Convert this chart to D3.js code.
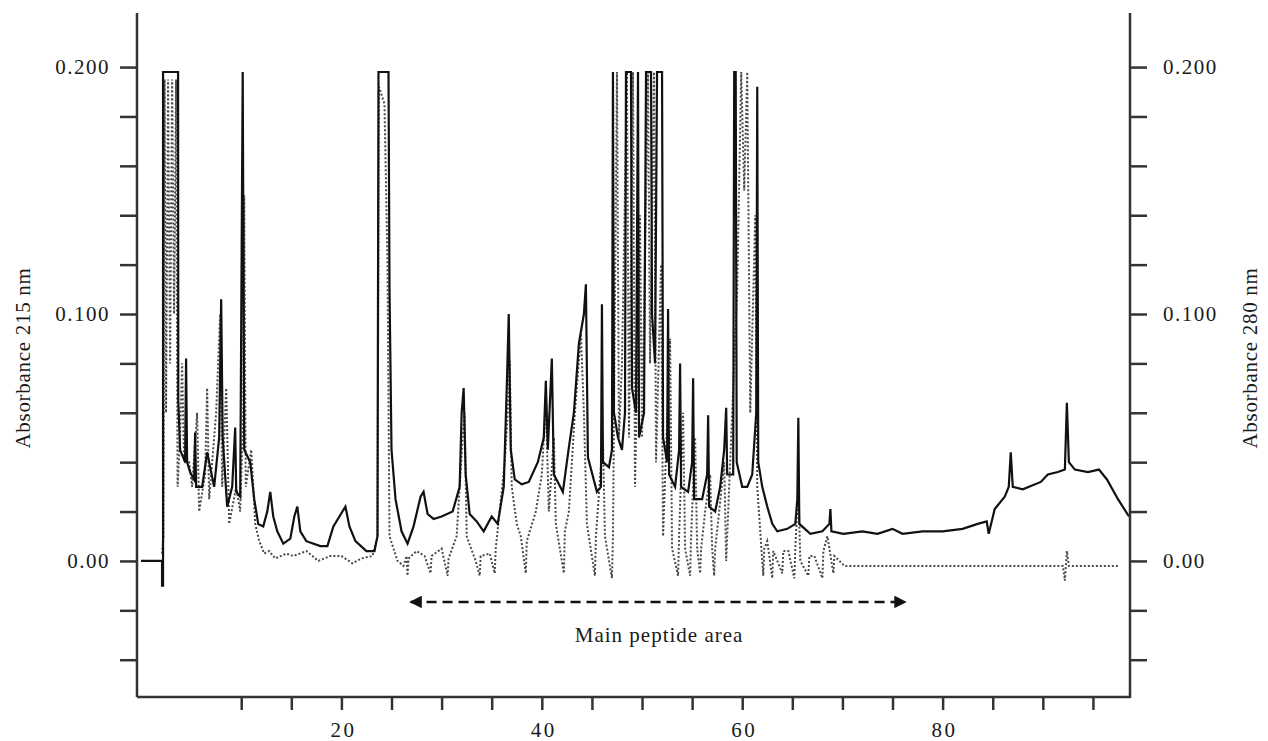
<!DOCTYPE html>
<html>
<head>
<meta charset="utf-8">
<script src="https://cdn.jsdelivr.net/npm/d3@7/dist/d3.min.js"></script>
<style>
  body { margin: 0; background: #fff; }
  svg text { font-family: "Liberation Serif", "Times New Roman", serif; fill: #1a1a1a; }
</style>
</head>
<body>
<svg id="chart"></svg>
<script>
var width = 1268,
  height = 741;

// retention time (min) / absorbance, 215 nm trace (solid)
var t215 = [0, 2.1, 2.1, 2.2, 2.2, 3.7, 3.72, 3.9, 4.4, 4.5, 4.6, 4.9, 5.3, 5.4, 5.5, 6.1, 6.6, 6.9,
  7.3, 7.8, 8.0, 8.15, 8.6, 9.1, 9.4, 9.5, 9.9, 10.15, 10.3, 10.9, 11.3, 11.7, 12.2, 12.6, 12.9, 13.2,
  13.6, 14.2, 14.9, 15.3, 15.6, 15.9, 16.5, 17.9, 18.6, 19.2, 19.8, 20.4, 20.8, 21.4, 22.5, 23.3,
  23.6, 23.7, 24.7, 24.8, 25.0, 25.4, 26.0, 26.6, 27.2, 27.9, 28.2, 28.6, 29.2, 30.0, 31.1, 31.8,
  32.0, 32.2, 32.4, 32.8, 33.5, 34.2, 35.0, 35.6, 36.2, 36.5, 36.7, 36.9, 37.3, 38.0, 38.7, 39.6,
  40.2, 40.4, 40.6, 41.0, 41.2, 42.1, 42.7, 43.2, 43.7, 44.2, 44.4, 44.6, 45.5, 45.9, 46.0, 46.1,
  46.7, 47.0, 47.1, 47.2, 47.6, 48.0, 48.3, 48.4, 48.9, 49.0, 49.4, 49.6, 49.7, 50.2, 50.4, 50.9,
  51.0, 51.3, 51.5, 52.0, 52.1, 52.5, 52.6, 52.7, 53.3, 53.7, 53.8, 53.9, 54.6, 55.0, 55.1, 55.2,
  56.0, 56.5, 56.6, 56.7, 57.3, 57.8, 58.2, 58.4, 58.5, 59.1, 59.2, 59.35, 59.45, 60.0, 60.5, 61.0,
  61.4, 61.5, 61.6, 62.0, 62.5, 63.0, 63.5, 64.5, 65.3, 65.5, 65.6, 65.7, 66.8, 68.0, 68.7, 68.8,
  68.9, 70.1, 72.0, 73.5, 75.0, 76.0, 78.0, 80.0, 82.0, 83.5, 84.4, 84.6, 85.2, 86.2, 86.6, 86.8,
  87.0, 88.0, 89.8, 90.5, 91.5, 92.2, 92.4, 92.6, 93.2, 94.5, 95.6, 96.4, 97.5, 98.6];
var a215 = [0, 0, -0.010, -0.010, 0.198, 0.198, 0.065, 0.045, 0.040, 0.082, 0.040, 0.036, 0.033,
  0.052, 0.030, 0.030, 0.044, 0.038, 0.030, 0.050, 0.106, 0.050, 0.022, 0.030, 0.054, 0.028, 0.026,
  0.198, 0.045, 0.040, 0.025, 0.015, 0.014, 0.020, 0.028, 0.018, 0.012, 0.007, 0.009, 0.018, 0.022,
  0.012, 0.008, 0.006, 0.006, 0.014, 0.018, 0.022, 0.014, 0.008, 0.004, 0.004, 0.010, 0.198, 0.198,
  0.110, 0.045, 0.025, 0.012, 0.007, 0.014, 0.026, 0.028, 0.019, 0.017, 0.018, 0.020, 0.030, 0.060,
  0.070, 0.035, 0.019, 0.016, 0.012, 0.018, 0.015, 0.030, 0.070, 0.100, 0.045, 0.033, 0.031, 0.032,
  0.040, 0.050, 0.073, 0.045, 0.082, 0.035, 0.028, 0.046, 0.060, 0.088, 0.100, 0.112, 0.042, 0.028,
  0.030, 0.104, 0.040, 0.038, 0.045, 0.198, 0.060, 0.050, 0.045, 0.060, 0.198, 0.198, 0.070, 0.060,
  0.198, 0.050, 0.060, 0.198, 0.198, 0.100, 0.080, 0.198, 0.198, 0.050, 0.040, 0.102, 0.035, 0.030,
  0.045, 0.080, 0.030, 0.028, 0.040, 0.074, 0.025, 0.025, 0.035, 0.059, 0.022, 0.020, 0.030, 0.045,
  0.062, 0.035, 0.035, 0.198, 0.198, 0.040, 0.030, 0.030, 0.035, 0.060, 0.192, 0.040, 0.030, 0.022,
  0.015, 0.012, 0.013, 0.015, 0.025, 0.058, 0.015, 0.011, 0.012, 0.015, 0.021, 0.012, 0.011, 0.012,
  0.011, 0.013, 0.011, 0.012, 0.012, 0.013, 0.015, 0.016, 0.011, 0.021, 0.026, 0.030, 0.044, 0.030,
  0.029, 0.032, 0.035, 0.036, 0.037, 0.064, 0.040, 0.037, 0.036, 0.037, 0.033, 0.025, 0.018];

// 280 nm trace (dotted)
var t280 = [2.1, 2.25, 2.35, 2.5, 2.7, 2.9, 3.1, 3.3, 3.5, 3.65, 3.9, 4.1, 4.3, 4.8, 5.1, 5.6, 5.8,
  6.4, 6.6, 6.8, 7.5, 7.9, 8.1, 8.5, 8.8, 9.5, 9.9, 10.2, 10.3, 10.45, 11.0, 11.4, 11.8, 12.3, 12.8,
  13.4, 14.5, 15.2, 16.5, 17.7, 18.9, 20.0, 21.1, 22.0, 23.1, 23.6, 23.75, 24.3, 24.6, 24.8, 25.6,
  26.2, 26.5, 26.6, 26.7, 27.5, 28.3, 28.9, 29.0, 30.0, 30.6, 30.7, 31.5, 32.1, 32.3, 32.5, 33.4,
  33.8, 33.9, 34.8, 35.3, 35.4, 36.3, 36.6, 36.8, 37.0, 37.5, 37.9, 38.4, 38.5, 39.4, 40.0, 40.4,
  40.7, 41.2, 41.4, 42.2, 42.3, 42.7, 43.3, 43.9, 44.2, 44.5, 45.3, 45.4, 46.1, 46.3, 47.0, 47.1,
  47.5, 47.7, 48.0, 48.3, 48.5, 48.7, 49.1, 49.3, 49.8, 50.0, 50.6, 50.8, 51.2, 51.4, 51.9, 52.1,
  52.8, 53.0, 53.6, 53.7, 54.1, 54.3, 54.8, 54.9, 55.3, 55.5, 55.8, 55.9, 56.3, 56.8, 57.0, 57.2,
  57.3, 57.7, 58.2, 58.4, 59.0, 59.5, 59.9, 60.2, 60.5, 60.8, 61.3, 61.5, 62.1, 62.2, 62.5, 63.0,
  63.1, 64.0, 64.1, 64.6, 65.2, 65.3, 65.6, 65.8, 66.6, 66.7, 67.2, 68.0, 68.1, 68.5, 69.1, 69.2,
  70.2, 80.0, 92.0, 92.2, 92.4, 92.6, 97.5];
var a280 = [0.003, 0.010, 0.195, 0.060, 0.195, 0.080, 0.195, 0.100, 0.195, 0.030, 0.050, 0.080,
  0.040, 0.040, 0.030, 0.060, 0.020, 0.035, 0.070, 0.025, 0.060, 0.100, 0.030, 0.070, 0.015, 0.030,
  0.020, 0.060, 0.148, 0.030, 0.045, 0.015, 0.008, 0.003, 0.004, 0.001, 0.003, 0.002, 0.004, 0.000,
  0.002, 0.002, -0.001, 0.001, 0.002, 0.010, 0.192, 0.185, 0.120, 0.010, 0.000, -0.002, 0.002,
  -0.006, 0.001, 0.004, 0.002, -0.005, 0.002, 0.005, -0.006, 0.001, 0.010, 0.050, 0.060, 0.010,
  0.000, -0.006, 0.002, 0.003, -0.005, 0.005, 0.040, 0.060, 0.081, 0.030, 0.015, 0.010, -0.005,
  0.008, 0.020, 0.035, 0.065, 0.020, 0.050, 0.015, -0.005, 0.012, 0.020, 0.060, 0.092, 0.060, 0.015,
  -0.006, 0.010, 0.050, 0.010, -0.007, 0.010, 0.198, 0.050, 0.080, 0.150, 0.198, 0.050, 0.198, 0.030,
  0.140, 0.050, 0.198, 0.080, 0.198, 0.040, 0.120, 0.010, 0.090, 0.005, -0.006, 0.010, 0.060, 0.005,
  -0.006, 0.010, 0.050, 0.005, -0.005, 0.005, 0.020, 0.035, 0.005, -0.006, 0.005, 0.020, 0.040, 0.000,
  0.060, 0.110, 0.198, 0.150, 0.198, 0.060, 0.140, 0.030, -0.006, 0.005, 0.008, -0.007, 0.004,
  -0.005, 0.004, 0.004, -0.007, 0.005, 0.030, 0.000, -0.006, 0.002, 0.002, -0.007, 0.004, 0.010,
  -0.005, 0.002, -0.002, -0.002, -0.002, -0.008, 0.004, -0.002, -0.002];

var xTicks = d3.range(10, 100, 5);
var xLabels = [20, 40, 60, 80];
var yTicks = d3.range(-0.04, 0.201, 0.02);
var yLabels = [0, 0.1, 0.2];
var yLabelText = ['0.00', '0.100', '0.200'];

var svg = d3.select('#chart')
  .attr('width', width)
  .attr('height', height);

var x = d3.scaleLinear()
  .domain([-0.4, 98.7])
  .range([137, 1130]);

var y = d3.scaleLinear()
  .domain([-0.0551, 0.2219])
  .range([697, 13]);

var line = d3.line()
  .x(function(d) { return x(d[0]); })
  .y(function(d) { return y(d[1]); });

// 280 nm, dotted
svg.append('path')
  .datum(d3.zip(t280, a280))
  .attr('d', line)
  .attr('fill', 'none')
  .attr('stroke', '#4a4a4a')
  .attr('stroke-width', 2)
  .attr('stroke-dasharray', '2,2');

// 215 nm, solid
svg.append('path')
  .datum(d3.zip(t215, a215))
  .attr('d', line)
  .attr('fill', 'none')
  .attr('stroke', '#111')
  .attr('stroke-width', 2.2);

// axes
var axisColor = '#333';

var left = svg.append('g').attr('transform', 'translate(' + x.range()[0] + ',0)');
left.call(d3.axisLeft(y).tickValues(yTicks).tickSize(17).tickFormat(''));

var right = svg.append('g').attr('transform', 'translate(' + x.range()[1] + ',0)');
right.call(d3.axisRight(y).tickValues(yTicks).tickSize(17).tickFormat(''));

var bottom = svg.append('g').attr('transform', 'translate(0,' + y.range()[0] + ')');
bottom.call(d3.axisBottom(x).tickValues(xTicks).tickSize(13).tickFormat(''));

svg.selectAll('.domain').remove();
svg.selectAll('.tick line')
  .attr('stroke', axisColor)
  .attr('stroke-width', 2.5);

left.append('line').attr('x1', 0).attr('x2', 0).attr('y1', y.range()[1]).attr('y2', y.range()[0])
  .attr('stroke', axisColor).attr('stroke-width', 2.5);
right.append('line').attr('x1', 0).attr('x2', 0).attr('y1', y.range()[1]).attr('y2', y.range()[0] + 1)
  .attr('stroke', axisColor).attr('stroke-width', 2.5);
bottom.append('line').attr('x1', x.range()[0]).attr('x2', x.range()[1]).attr('y1', 0).attr('y2', 0)
  .attr('stroke', axisColor).attr('stroke-width', 2.5);

// tick labels
svg.selectAll('.ylab-left')
  .data(yLabels)
  .enter().append('text')
  .attr('class', 'ylab-left')
  .attr('x', 110)
  .attr('y', function(d) { return y(d) + 7; })
  .attr('text-anchor', 'end')
  .style('font-size', '21px')
  .style('letter-spacing', '1.5px')
  .text(function(d, i) { return yLabelText[i]; });

svg.selectAll('.ylab-right')
  .data(yLabels)
  .enter().append('text')
  .attr('class', 'ylab-right')
  .attr('x', 1163)
  .attr('y', function(d) { return y(d) + 7; })
  .attr('text-anchor', 'start')
  .style('font-size', '21px')
  .style('letter-spacing', '1.5px')
  .text(function(d, i) { return yLabelText[i]; });

svg.selectAll('.xlab')
  .data(xLabels)
  .enter().append('text')
  .attr('class', 'xlab')
  .attr('x', function(d) { return x(d) + 2; })
  .attr('y', 737)
  .attr('text-anchor', 'middle')
  .style('font-size', '21px')
  .style('letter-spacing', '2.5px')
  .text(function(d) { return d; });

// axis titles
svg.append('text')
  .attr('transform', 'translate(30,358) rotate(-90)')
  .attr('text-anchor', 'middle')
  .style('font-size', '21px')
  .style('letter-spacing', '0.7px')
  .text('Absorbance 215 nm');

svg.append('text')
  .attr('transform', 'translate(1257,358) rotate(-90)')
  .attr('text-anchor', 'middle')
  .style('font-size', '21px')
  .style('letter-spacing', '0.7px')
  .text('Absorbance 280 nm');

// main peptide area annotation
var areaFrom = 26.9,
  areaTo = 76.3,
  areaLevel = -0.0166;

svg.append('defs').append('marker')
  .attr('id', 'head')
  .attr('viewBox', '0 0 10 10')
  .attr('refX', 9)
  .attr('refY', 5)
  .attr('markerWidth', 9)
  .attr('markerHeight', 5)
  .attr('markerUnits', 'strokeWidth')
  .attr('orient', 'auto-start-reverse')
  .append('path')
  .attr('d', 'M0,0L10,5L0,10Z')
  .attr('fill', '#111');

svg.append('line')
  .attr('x1', x(areaFrom))
  .attr('x2', x(areaTo))
  .attr('y1', y(areaLevel))
  .attr('y2', y(areaLevel))
  .attr('stroke', '#111')
  .attr('stroke-width', 2.5)
  .attr('stroke-dasharray', '10,6')
  .attr('marker-start', 'url(#head)')
  .attr('marker-end', 'url(#head)');

svg.append('text')
  .attr('x', x((areaFrom + areaTo) / 2) + 1)
  .attr('y', y(areaLevel) + 40)
  .attr('text-anchor', 'middle')
  .style('font-size', '21px')
  .style('letter-spacing', '1px')
  .text('Main peptide area');
</script>
</body>
</html>
